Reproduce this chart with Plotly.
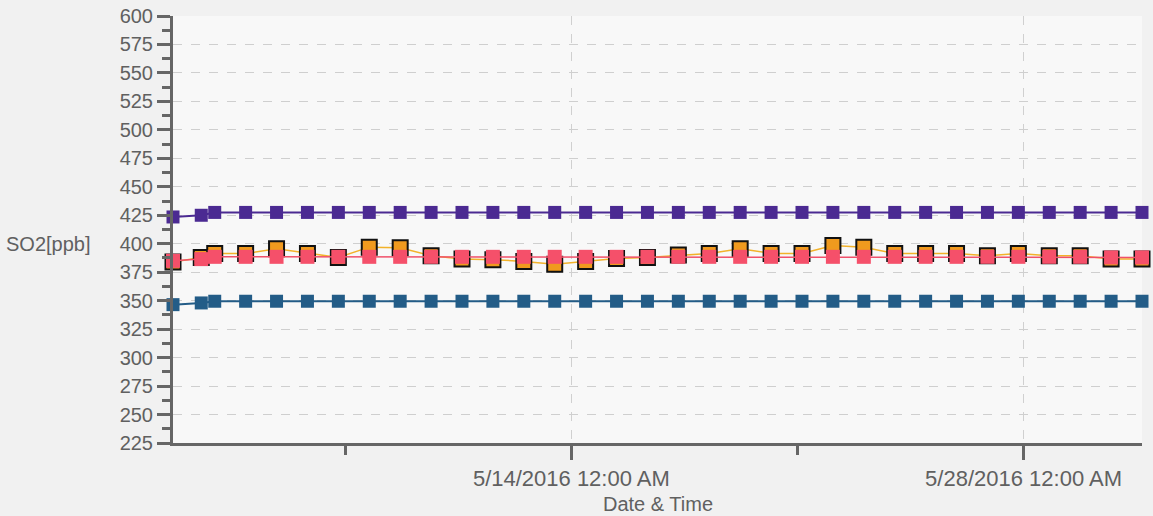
import plotly.graph_objects as go

# ---- data ----
dates = [
    "2016-05-01 16:00", "2016-05-02 13:00", "2016-05-02 23:00", "2016-05-03 21:58",
    "2016-05-04 20:56", "2016-05-05 19:54", "2016-05-06 18:52", "2016-05-07 17:50",
    "2016-05-08 16:48", "2016-05-09 15:46", "2016-05-10 14:44", "2016-05-11 13:42",
    "2016-05-12 12:40", "2016-05-13 11:38", "2016-05-14 10:36", "2016-05-15 09:34",
    "2016-05-16 08:32", "2016-05-17 07:30", "2016-05-18 06:28", "2016-05-19 05:26",
    "2016-05-20 04:24", "2016-05-21 03:22", "2016-05-22 02:20", "2016-05-23 01:18",
    "2016-05-24 00:16", "2016-05-24 23:14", "2016-05-25 22:12", "2016-05-26 21:10",
    "2016-05-27 20:08", "2016-05-28 19:06", "2016-05-29 18:04", "2016-05-30 17:02",
    "2016-05-31 16:00",
]

upper_limit = [423.5, 425.0, 427.5, 427.5, 427.5, 427.5, 427.5, 427.5, 427.5, 427.5,
               427.5, 427.5, 427.5, 427.5, 427.5, 427.5, 427.5, 427.5, 427.5, 427.5,
               427.5, 427.5, 427.5, 427.5, 427.5, 427.5, 427.5, 427.5, 427.5, 427.5,
               427.5, 427.5, 427.5]

lower_limit = [346.5, 348.0, 349.5, 349.5, 349.5, 349.5, 349.5, 349.5, 349.5, 349.5,
               349.5, 349.5, 349.5, 349.5, 349.5, 349.5, 349.5, 349.5, 349.5, 349.5,
               349.5, 349.5, 349.5, 349.5, 349.5, 349.5, 349.5, 349.5, 349.5, 349.5,
               349.5, 349.5, 349.5]

reference = [385.0, 386.5, 388.5, 388.5, 388.5, 388.5, 388.5, 388.5, 388.5, 388.5,
             388.5, 388.5, 388.5, 388.5, 388.5, 388.5, 388.5, 388.5, 388.5, 388.5,
             388.5, 388.5, 388.5, 388.5, 388.5, 388.5, 388.5, 388.5, 388.5, 388.5,
             388.5, 388.0, 388.0]

measured = [384.0, 388.0, 391.5, 391.5, 395.5, 391.5, 388.0, 397.0, 396.5, 389.5,
            386.5, 386.0, 384.5, 382.0, 384.5, 387.0, 388.0, 390.0, 391.5, 395.5,
            391.5, 391.5, 398.5, 397.0, 391.5, 391.5, 391.5, 389.5, 391.5, 389.5,
            389.5, 386.5, 386.5]

y_ticks = [225, 250, 275, 300, 325, 350, 375, 400, 425, 450, 475, 500, 525, 550, 575, 600]

FONT = "Liberation Sans, Arial, sans-serif"
TXT = "#606060"
AX = "#666666"

fig = go.Figure()

fig.add_trace(go.Scatter(
    x=dates, y=upper_limit, mode="lines+markers", cliponaxis=False,
    line=dict(color="#4b2a92", width=2),
    marker=dict(symbol="square", size=13, color="#4b2a92"),
    showlegend=False))

fig.add_trace(go.Scatter(
    x=dates, y=lower_limit, mode="lines+markers", cliponaxis=False,
    line=dict(color="#235c87", width=2),
    marker=dict(symbol="square", size=13, color="#235c87"),
    showlegend=False))

fig.add_trace(go.Scatter(
    x=dates, y=measured, mode="lines+markers", cliponaxis=False,
    line=dict(color="#f2b22a", width=1.5),
    marker=dict(symbol="square", size=15, color="#f09a1e",
                line=dict(color="#111111", width=2)),
    showlegend=False))

fig.add_trace(go.Scatter(
    x=dates, y=reference, mode="lines+markers", cliponaxis=False,
    line=dict(color="#f0506a", width=1.5),
    marker=dict(symbol="square", size=14, color="#f5506a"),
    showlegend=False))

fig.update_layout(
    width=1153, height=516,
    margin=dict(l=173, r=11, t=16, b=73, autoexpand=False),
    paper_bgcolor="#f1f1f1",
    plot_bgcolor="#f8f8f8",
    font=dict(family=FONT, size=20, color=TXT),
    xaxis=dict(
        type="date", automargin=False,
        range=["2016-05-01 16:00", "2016-05-31 16:00"],
        tick0="2016-05-14", dtick=14 * 86400000,
        tickformat="%-m/%-d/%Y %-I:%M %p",
        ticks="outside", ticklen=14, tickwidth=3, tickcolor=AX,
        showline=True, linewidth=3, linecolor=AX,
        showgrid=True, gridcolor="#d0d0d0", griddash="dash", gridwidth=1,
        zeroline=False,
        minor=dict(dtick=7 * 86400000, tick0="2016-05-07", ticks="outside",
                   ticklen=9, tickwidth=3, tickcolor=AX, showgrid=False),
        tickfont=dict(size=22, color=TXT),
        ticklabelstandoff=0,
    ),
    yaxis=dict(
        automargin=False,
        range=[225, 600],
        tickvals=y_ticks,
        ticks="outside", ticklen=13, tickwidth=3, tickcolor=AX,
        showline=True, linewidth=3, linecolor=AX,
        showgrid=True, gridcolor="#cfcfcf", griddash="dash", gridwidth=1,
        zeroline=False,
        minor=dict(dtick=12.5, ticks="outside", ticklen=8, tickwidth=3,
                   tickcolor=AX, showgrid=False),
        tickfont=dict(size=20, color=TXT),
    ),
    annotations=[
        dict(text="SO2[ppb]", xref="paper", yref="y", x=-0.174, y=400,
             xanchor="left", yanchor="middle", showarrow=False,
             font=dict(size=20, color=TXT, family=FONT)),
        dict(text="Date & Time", xref="paper", yref="paper", x=0.5, y=-0.144,
             xanchor="center", yanchor="middle", showarrow=False,
             font=dict(size=20, color=TXT, family=FONT)),
    ],
)

fig.write_html("out.html",
               config={"displayModeBar": False},
               post_script="document.body.style.margin='0';document.body.style.padding='0';")
